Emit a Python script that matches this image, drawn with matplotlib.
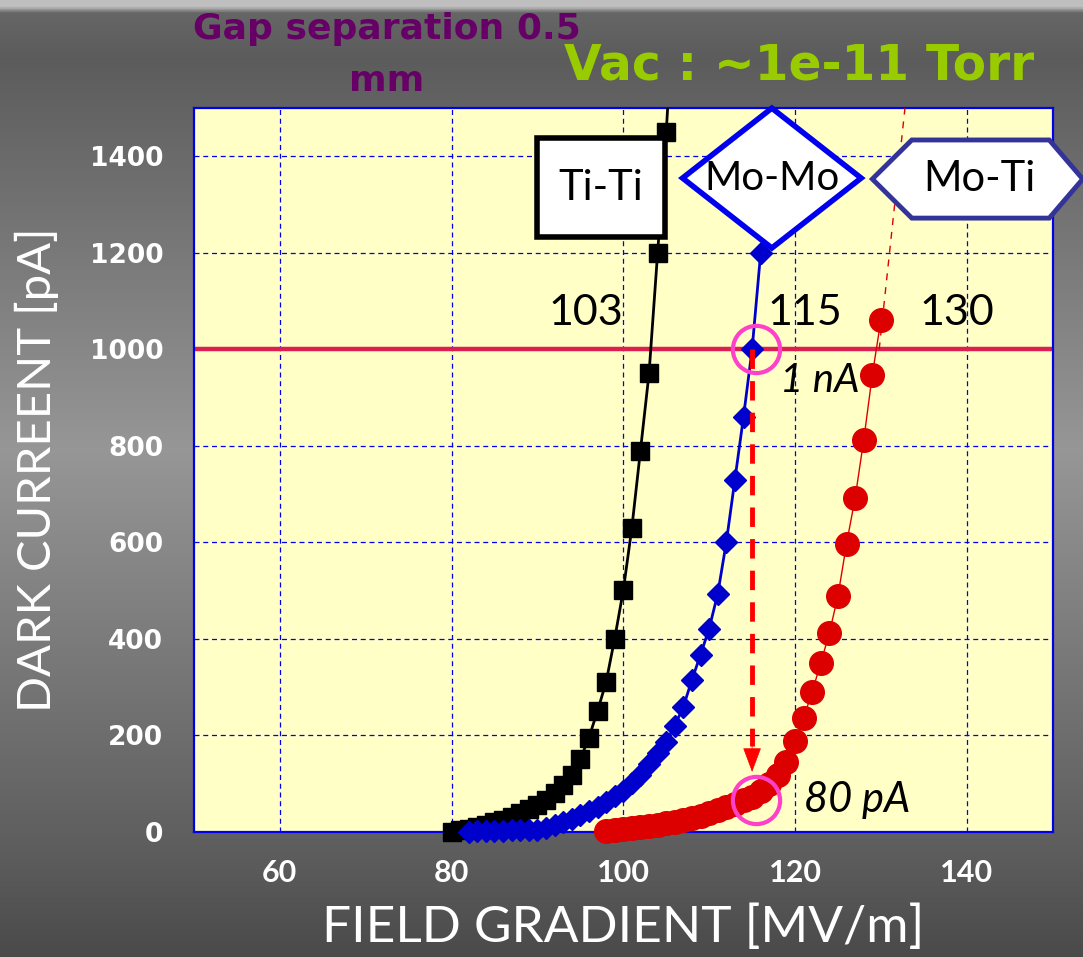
import numpy as np
import matplotlib
matplotlib.use("Agg")
import matplotlib.pyplot as plt
from matplotlib.patches import Polygon, Rectangle

# ---------------- data ----------------
titi_x = [80, 81, 82, 83, 84, 85, 86, 87, 88, 89, 90, 91, 92, 93, 94, 95, 96, 97, 98, 99, 100, 101, 102, 103, 104, 105, 106]
titi_y = [0, 3, 6, 10, 14, 19, 25, 31, 38, 46, 55, 66, 80, 96, 118, 150, 195, 250, 310, 400, 500, 630, 790, 950, 1200, 1450, 1750]

momo_x = [82, 83, 84, 85, 86, 87, 88, 89, 90, 91, 92, 93, 94, 95, 96, 97, 98, 99, 100, 101, 102, 103, 104, 105,
          106, 107, 108, 109, 110, 111, 112, 113, 114, 115, 116]
momo_y = [0, 0.5, 1, 1.5, 2, 2.5, 3, 3.5, 4, 8, 14, 20, 27, 35, 43, 52, 62, 73, 85, 100, 118, 140, 164, 186,
          220, 259, 315, 367, 421, 493, 600, 730, 860, 1000, 1200]

moti_x = [98, 99, 100, 101, 102, 103, 104, 105, 106, 107, 108, 109, 110, 111, 112, 113, 114, 115, 116, 117, 118,
          119, 120, 121, 122, 123, 124, 125, 126, 127, 128, 129, 130]
moti_y = [2, 4, 6, 8, 10, 12, 14, 17, 20, 24, 28, 33, 38, 44, 51, 58, 66, 72, 84, 99, 118,
          145, 187, 236, 290, 350, 412, 489, 597, 692, 812, 947, 1061]

moti_extrap_x = [129.8, 132.8]
moti_extrap_y = [1000, 1500]

threshold = 1000
marker_x = 115.5
marker_y = [1000, 66]
arrow_x = 115.0
arrow_from, arrow_to = 1000, 118

x_ticks = [60, 80, 100, 120, 140]
y_ticks = [0, 200, 400, 600, 800, 1000, 1200, 1400]
field_labels = ["103", "115", "130"]
field_label_x = [95.7, 121.1, 138.8]

FONT = ["Lato", "DejaVu Sans"]
plt.rcParams['font.family'] = FONT

fig = plt.figure(figsize=(10.83, 9.57), dpi=100)

# background gradient
bg = fig.add_axes([0, 0, 1, 1], zorder=-10)
rows = np.linspace(0, 1, 400)
stops_pos = [0.0, 0.006, 0.012, 0.06, 0.47, 0.9, 1.0]
stops_val = [0.75, 0.75, 0.40, 0.36, 0.59, 0.36, 0.29]
g = np.interp(rows, stops_pos, stops_val)
img = np.repeat(g[:, None], 10, axis=1)
bg.imshow(np.dstack([img, img, img]), aspect='auto', extent=[0, 1, 1, 0])
bg.set_axis_off()

ax = fig.add_axes([0.179, 0.131, 0.793, 0.756])
ax.set_facecolor("#FFFFC6")
ax.set_xlim(50, 150)
ax.set_ylim(0, 1500)
for s in ax.spines.values():
    s.set_color("#0000EE")
    s.set_linewidth(1.6)
ax.set_xticks(x_ticks)
ax.set_yticks(y_ticks)
ax.tick_params(length=0, colors="white")
ax.tick_params(axis='x', pad=20)
ax.tick_params(axis='y', pad=22)
for lab in ax.get_xticklabels():
    lab.set_fontweight("bold")
    lab.set_fontsize(22)
for lab in ax.get_yticklabels():
    lab.set_fontweight("bold")
    lab.set_fontsize(19)
    lab.set_family("DejaVu Sans")
ax.grid(True, color="#0000EE", linestyle=(0, (4, 3)), linewidth=0.9)
ax.set_axisbelow(True)

ax.set_xlabel("FIELD GRADIENT [MV/m]", color="white", fontsize=37, labelpad=12)
ax.set_ylabel("DARK CURREENT [pA]", color="white", fontsize=34, labelpad=22)

# threshold line
ax.axhline(threshold, color="#DC1E50", linewidth=3.2, zorder=2)

# series: lines (clipped) and markers (not clipped at the bottom)
def series(xs, ys, color, lw, marker, ms):
    ax.plot(xs, ys, color=color, linewidth=lw, zorder=4)
    mx = [x for x, y in zip(xs, ys) if y <= 1500]
    my = [y for y in ys if y <= 1500]
    ax.plot(mx, my, linestyle="none", marker=marker, markersize=ms, markerfacecolor=color,
            markeredgecolor=color, zorder=5, clip_on=False)

series(titi_x, titi_y, "black", 2, "s", 12.5)
series(momo_x, momo_y, "#0000CC", 2, "D", 11.5)
series(moti_x, moti_y, "#DD0000", 1, "o", 17)
ax.plot(moti_extrap_x, moti_extrap_y, color="#DD0000", linewidth=1, linestyle=(0, (5, 5)), zorder=4)

# dashed arrow
ax.plot([arrow_x, arrow_x], [arrow_from, arrow_to + 60], color="#FF0000", linewidth=3.5,
        linestyle=(0, (4, 2.5)), zorder=6)
ax.annotate("", xy=(arrow_x, arrow_to), xytext=(arrow_x, arrow_to + 75),
            arrowprops=dict(arrowstyle="-|>,head_width=0.6,head_length=1.6", color="#FF0000", lw=0.5),
            zorder=6)

# magenta circles
ax.plot([marker_x] * 2, marker_y, linestyle="none", marker="o", markersize=34,
        markerfacecolor="none", markeredgecolor="#FF40C8", markeredgewidth=3, zorder=7)

# annotations
for xv, txt in zip(field_label_x, field_labels):
    ax.text(xv, 1076, txt, fontsize=31, ha="center", va="center", color="black", zorder=8)
ax.text(122.9, 935, "1 nA", fontsize=29, style="italic", ha="center", va="center", zorder=8)
ax.text(127.2, 66, "80 pA", fontsize=30, style="italic", ha="center", va="center", zorder=8)

# labels with shapes
ax.add_patch(Rectangle((89.9, 1233), 15.0, 205, facecolor="white", edgecolor="black",
                       linewidth=4, zorder=9))
ax.text(97.4, 1335, "Ti-Ti", fontsize=30, ha="center", va="center", zorder=10)

cx, cy, hw, hh = 117.3, 1355, 10.4, 145
ax.add_patch(Polygon([(cx - hw, cy), (cx, cy + hh), (cx + hw, cy), (cx, cy - hh)], closed=True,
                     facecolor="white", edgecolor="#0000EE", linewidth=4, zorder=9, clip_on=False))
ax.text(cx, cy, "Mo-Mo", fontsize=29, ha="center", va="center", zorder=10)

hex_pts = [(129.0, 1353), (133.6, 1434), (149.6, 1434), (153.5, 1353), (149.6, 1272), (133.6, 1272)]
ax.add_patch(Polygon(hex_pts, closed=True, facecolor="white", edgecolor="#333399",
                     linewidth=3.5, zorder=9, clip_on=False))
ax.text(141.5, 1353, "Mo-Ti", fontsize=30, ha="center", va="center", zorder=10)

# titles
fig.text(0.357, 0.970, "Gap separation 0.5", fontsize=26, fontweight="bold", color="#660066",
         ha="center", va="center", family="DejaVu Sans")
fig.text(0.357, 0.915, "mm", fontsize=26, fontweight="bold", color="#660066",
         ha="center", va="center", family="DejaVu Sans")
fig.text(0.738, 0.932, "Vac : ~1e-11 Torr", fontsize=35, fontweight="bold", color="#99CC00",
         ha="center", va="center", family="DejaVu Sans")

fig.savefig("out.png", dpi=100)
